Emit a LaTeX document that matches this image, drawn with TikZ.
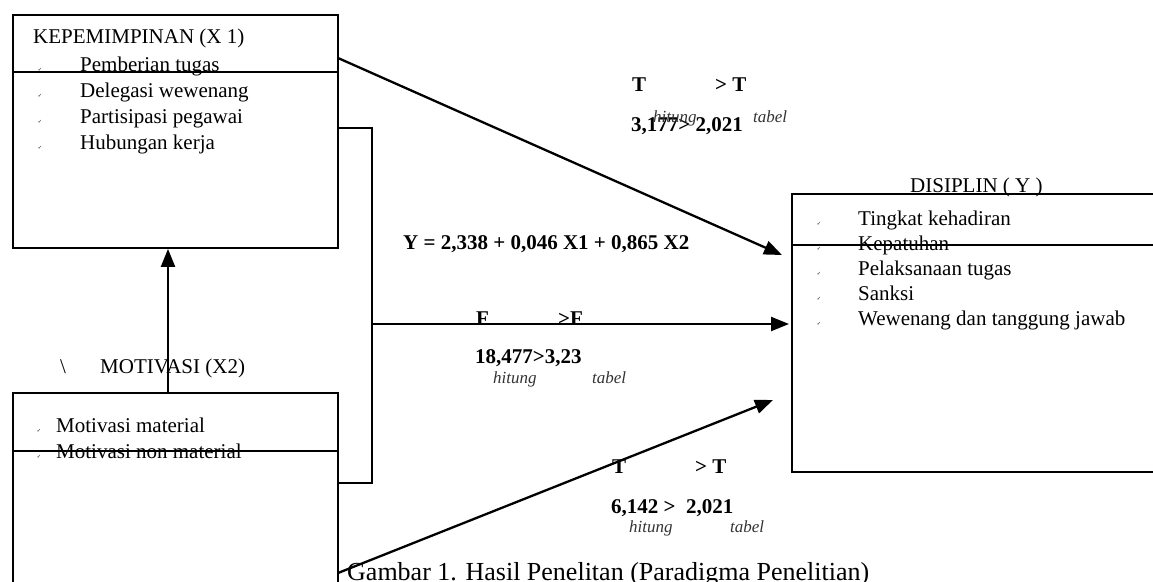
\documentclass[tikz,border=0pt]{standalone}
\usepackage{fontspec}
\setmainfont{Liberation Serif}
\newfontfamily\dejavu{DejaVu Sans}
\usetikzlibrary{arrows.meta}
\begin{document}
\begin{tikzpicture}[x=1pt,y=-1pt,
  box/.style={draw, line width=1.9pt, inner sep=0pt, anchor=north west},
  lbl/.style={inner sep=0pt, anchor=base west, font=\fontsize{21}{25}\selectfont},
  blbl/.style={inner sep=0pt, anchor=base west, font=\fontsize{21}{25}\selectfont\bfseries},
  sublbl/.style={inner sep=0pt, anchor=base west, font=\fontsize{17}{20}\selectfont\itshape, text=black!80},
  capt/.style={inner sep=0pt, anchor=base west, font=\fontsize{26}{30}\selectfont},
  tick/.style={inner sep=0pt, anchor=base, font=\dejavu\fontsize{5}{5}\selectfont},
  conn/.style={line width=2.3pt, -{Triangle[length=18pt,width=14pt]}},
  plain/.style={line width=1.9pt}]
\useasboundingbox (0,0) rectangle (1153,581);
\clip (0,0) rectangle (1153,581);

% boxes
\node[box, minimum width=325pt, minimum height=233pt] (x1) at (12,14) {};
\node[box, minimum width=325pt, minimum height=250pt] (x2) at (12,392) {};
\node[box, minimum width=420pt, minimum height=278pt] (y) at (791,193) {};

% inner lines
\draw[plain] (x1.west |- 0,72) -- (x1.east |- 0,72);
\draw[plain] (x2.west |- 0,451) -- (x2.east |- 0,451);
\draw[plain] (y.west |- 0,245) -- (1153,245);

% bracket joining the two predictors
\coordinate (bt) at (372,128);
\coordinate (bb) at (372,483);
\coordinate (br) at (372,324);
\draw[plain] (x1.east |- bt) -- (bt) -- (bb) -- (x2.east |- bb);

% connectors
\coordinate (a1s) at (338,58);
\coordinate (a1e) at (782,255);
\coordinate (a3s) at (338,573);
\coordinate (a3e) at (773,400);
\draw[conn] (a1s) -- (a1e);
\draw[conn] (br) -- ([xshift=-2pt]y.west |- br);
\draw[conn] (a3s) -- (a3e);
\draw[conn] (x2.north -| 168,0) -- (x1.south -| 168,0);

% X1 texts
\node[lbl] (x1t) at (33,43) {KEPEMIMPINAN (X 1)};
\node[tick] (k1) at (40,71) {✓};
\node[tick] (k2) at (40,97) {✓};
\node[tick] (k3) at (40,123) {✓};
\node[tick] (k4) at (40,149) {✓};
\node[lbl] (x1a) at (80,71) {Pemberian tugas};
\node[lbl] (x1b) at (80,97) {Delegasi wewenang};
\node[lbl] (x1c) at (80,123) {Partisipasi pegawai};
\node[lbl] (x1d) at (80,149) {Hubungan kerja};

% Y texts
\node[lbl] (yt) at (910,192) {DISIPLIN ( Y )};
\node[tick] (m1) at (819,225) {✓};
\node[tick] (m2) at (819,250) {✓};
\node[tick] (m3) at (819,275) {✓};
\node[tick] (m4) at (819,300) {✓};
\node[tick] (m5) at (819,325) {✓};
\node[lbl] (ya) at (858,225) {Tingkat kehadiran};
\node[lbl] (yb) at (858,250) {Kepatuhan};
\node[lbl] (yc) at (858,275) {Pelaksanaan tugas};
\node[lbl] (yd) at (858,300) {Sanksi};
\node[lbl] (ye) at (858,325) {Wewenang dan tanggung jawab};

% X2 texts
\node[lbl] (bsl) at (60,373) {\textbackslash};
\node[lbl] (x2t) at (100,373) {MOTIVASI (X2)};
\node[tick] (n1) at (39,432) {✓};
\node[tick] (n2) at (39,458) {✓};
\node[lbl] (x2a) at (56,432) {Motivasi material};
\node[lbl] (x2b) at (56,458) {Motivasi non material};

% test statistics, upper
\node[blbl] (t1a) at (632,91) {T};
\node[blbl] (t1b) at (715,91) {> T};
\node[blbl] (t1c) at (631,131) {3,177> 2,021};
\node[sublbl] (t1h) at (653,122) {hitung};
\node[sublbl] (t1t) at (753,122) {tabel};

% regression equation
\node[blbl] (eq) at (403,249) {Y = 2,338 + 0,046 X1 + 0,865 X2};

% F test
\node[blbl] (fa) at (476,325) {F};
\node[blbl] (fb) at (558,325) {>F};
\node[blbl] (fc) at (475,363) {18,477>3,23};
\node[sublbl] (fh) at (493,383) {hitung};
\node[sublbl] (ft) at (592,383) {tabel};

% test statistics, lower
\node[blbl] (t2a) at (612,473) {T};
\node[blbl] (t2b) at (695,473) {> T};
\node[blbl] (t2c) at (611,513) {6,142 >\ \ 2,021};
\node[sublbl] (t2h) at (629,532) {hitung};
\node[sublbl] (t2t) at (730,532) {tabel};

% caption
\node[capt] (cap) at (347,580) {Gambar 1. Hasil Penelitan (Paradigma Penelitian)};
\end{tikzpicture}
\end{document}
